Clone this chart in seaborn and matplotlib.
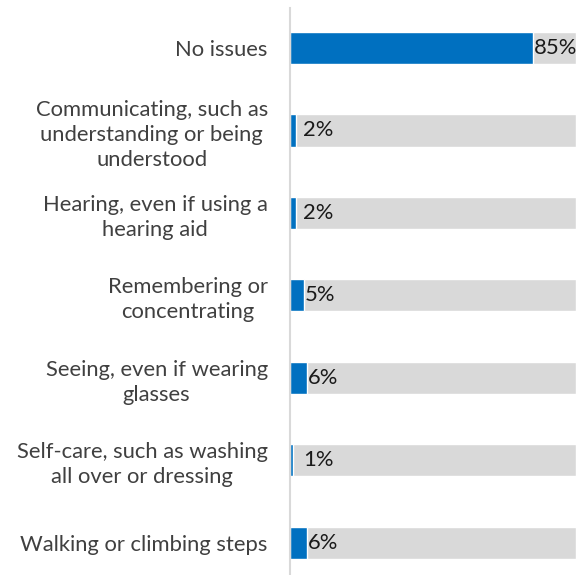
import matplotlib
matplotlib.use("Agg")
import matplotlib.pyplot as plt
import seaborn as sns
import pandas as pd

categories = [
    "No issues",
    "Communicating, such as\nunderstanding or being\nunderstood",
    "Hearing, even if using a\nhearing aid",
    "Remembering or\nconcentrating",
    "Seeing, even if wearing\nglasses",
    "Self-care, such as washing\nall over or dressing",
    "Walking or climbing steps",
]
values = [85, 2, 2, 5, 6, 1, 6]
full_scale = [100] * len(categories)

df = pd.DataFrame({"category": categories, "value": values, "total": full_scale})

sns.set_theme(style="white")
plt.rcParams["font.family"] = ["Lato", "DejaVu Sans"]

fig = plt.figure(figsize=(5.85, 5.75), dpi=100)
ax = fig.add_axes([290 / 585, 0, 286 / 585, 567 / 575])

bar_h = 0.39
sns.barplot(data=df, x="total", y="category", orient="h", color="#D9D9D9",
            width=bar_h, ax=ax, saturation=1)
sns.barplot(data=df, x="value", y="category", orient="h", color="#0070C0",
            width=bar_h, ax=ax, saturation=1)

for i, v in enumerate(values):
    ax.text(max(v + 0.3, 4.6), i, f"{v}%", ha="left", va="center",
            fontsize=15.8, color="#1a1a1a")

ax.set_xlim(0, 100)
ax.set_ylim(6.39, -0.485)
ax.set_xlabel("")
ax.set_ylabel("")
ax.set_xticks([])
ax.set_yticks(range(len(categories)))
ax.set_yticklabels(categories, fontsize=15.8, color="#404040", ha="right",
                   multialignment="center", linespacing=1.3)
ax.tick_params(axis="y", length=0, pad=16)

for side in ["top", "right", "bottom"]:
    ax.spines[side].set_visible(False)
ax.spines["left"].set_color("#D9D9D9")
ax.spines["left"].set_linewidth(1.5)

fig.savefig("out.png", dpi=100, facecolor="white")
